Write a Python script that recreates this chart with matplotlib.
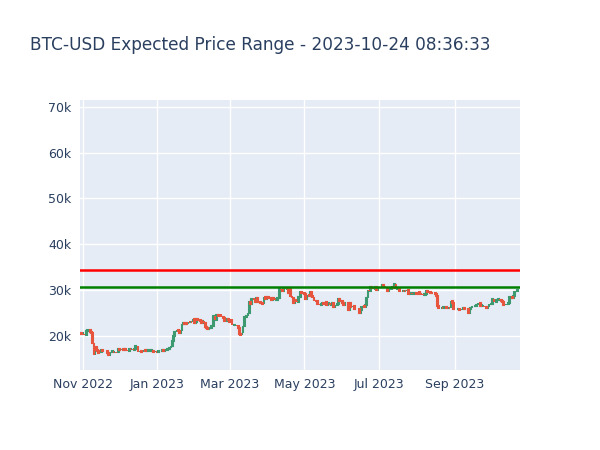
import matplotlib
matplotlib.use("Agg")
import matplotlib.pyplot as plt
import matplotlib.dates as mdates
import numpy as np
import pandas as pd

start = "2022-10-30"
# daily closes, thousands USD
closes = [
    20.6, 20.5,
    20.5, 20.2, 20.2, 21.1, 21.3, 21.3, 20.9, 20.6, 18.5, 15.9, 17.6, 17.0, 16.8, 16.3, 16.6,
    16.9, 16.7, 16.7, 16.7, 16.7, 16.3, 15.8, 16.2, 16.6, 16.6, 16.5, 16.5, 16.2, 16.4, 17.2,
    17.0, 16.9, 17.1, 16.9, 17.1, 17.0, 16.8, 16.8, 17.2, 17.1, 17.1, 16.9, 17.1, 17.8, 17.8,
    16.6, 16.7, 16.8, 16.6, 16.5, 16.9, 16.8, 16.8, 16.8, 16.8, 16.8, 16.8, 16.7, 16.6, 16.6, 16.5,
    16.6, 16.7, 16.7, 16.7, 16.9, 16.8, 16.9, 16.9, 17.1, 17.2, 17.4, 17.9, 18.8, 19.9, 20.9,
    20.9, 21.2, 21.1, 20.7, 21.1, 22.7, 22.8, 22.7, 22.9, 22.6, 23.1, 23.0, 23.1, 23.0, 23.7, 22.8,
    23.1, 23.7, 23.5, 23.4, 23.3, 22.9, 23.2, 22.9, 22.0, 21.8, 21.6, 21.8, 21.8, 22.2,
    22.2, 24.3, 23.5, 24.6, 24.5, 24.3, 24.8, 24.1, 24.2, 23.9, 23.2, 23.2, 23.6, 23.5,
    23.1, 23.6, 22.4, 22.4, 22.4, 22.4, 22.2, 21.7, 20.4, 20.2, 20.6, 22.2, 24.1, 24.2, 24.4,
    25.0, 27.4, 26.9, 28.0, 28.2, 27.8, 27.5, 28.3, 27.5, 27.5, 27.1, 27.1, 26.9, 28.4, 28.0, 28.5,
    28.5, 28.2, 28.2, 27.8, 28.2, 28.0, 27.9, 27.9, 28.3, 28.3, 30.2, 30.1, 29.9, 30.4, 30.5,
    30.3, 30.3, 29.4, 30.4, 28.8, 28.2, 27.3, 27.8, 27.6, 27.5, 28.4, 28.4, 29.5, 29.3, 29.4,
    29.2, 28.1, 28.7, 29.0, 28.8, 29.5, 28.8, 28.4, 27.7, 27.6, 27.6, 27.0, 26.8, 26.8, 26.9,
    27.2, 27.0, 27.4, 26.8, 26.9, 27.1, 26.7, 26.9, 27.2, 26.3, 26.5, 26.7, 26.9, 28.1, 27.7, 27.7,
    27.2, 26.8, 27.2, 27.1, 27.2, 25.7, 27.2, 26.3, 26.5, 26.5, 25.9, 25.9, 25.9, 25.9, 25.1,
    25.6, 26.3, 26.5, 26.3, 26.8, 28.3, 30.0, 29.9, 30.7, 30.5, 30.5, 30.3, 30.7, 30.1, 30.4,
    30.5, 30.6, 30.6, 31.2, 31.0, 30.5, 30.4, 29.9, 30.3, 30.3, 30.4, 30.7, 30.4, 31.4, 30.3,
    30.3, 30.3, 29.9, 29.8, 29.9, 29.8, 29.9, 29.8, 30.1, 29.2, 29.2, 29.3, 29.2, 29.3, 29.4, 29.3,
    29.2, 29.7, 29.2, 29.2, 29.1, 29.0, 29.0, 29.1, 29.8, 29.5, 29.5, 29.4, 29.4, 29.3, 29.4,
    29.2, 28.7, 26.6, 26.0, 26.1, 26.2, 26.0, 26.4, 26.4, 26.2, 26.0, 26.1, 26.0, 27.7, 27.3, 25.9,
    25.8, 25.9, 25.9, 25.8, 25.7, 25.7, 25.8, 26.2, 25.9, 25.9, 25.8, 25.1, 25.8, 26.1, 26.5,
    26.5, 26.5, 26.5, 26.8, 27.2, 27.1, 26.6, 26.6, 26.6, 26.3, 26.3, 26.2, 26.4, 27.0, 27.0,
    27.0, 28.0, 27.5, 27.4, 27.8, 27.9, 28.0, 27.9, 27.6, 27.4, 26.8, 26.7, 26.9, 26.9, 27.2,
    28.5, 28.4, 28.3, 28.7, 29.7, 29.9, 30.0, 30.0,
]
upper_level = 34.5
lower_level = 30.6
title = "BTC-USD Expected Price Range - 2023-10-24 08:36:33"

dates = pd.date_range(start, periods=len(closes), freq="D")
close = np.array(closes) * 1000
opens = np.concatenate([[close[0]], close[:-1]])
up = close >= opens

fig = plt.figure(figsize=(6, 4.5), dpi=100)
ax = fig.add_axes([0.133, 0.178, 0.734, 0.6])
ax.set_facecolor("#E5ECF6")
ax.grid(color="white", linewidth=1)
ax.set_axisbelow(True)
for s in ax.spines.values():
    s.set_visible(False)

x = mdates.date2num(dates)
bottom = np.minimum(opens, close)
height = np.maximum(np.abs(close - opens), 60)
ax.bar(x[up], height[up], bottom=bottom[up], width=0.6, color="#3D9970",
       edgecolor="#3D9970", linewidth=1.5, zorder=3)
ax.bar(x[~up], height[~up], bottom=bottom[~up], width=0.6, color="#E8553F",
       edgecolor="#E8553F", linewidth=1.5, zorder=3)

ax.axhline(upper_level * 1000, color="red", linewidth=1.8, zorder=4)
ax.axhline(lower_level * 1000, color="green", linewidth=1.8, zorder=4)

ax.set_ylim(12600, 71500)
ax.set_yticks([20000, 30000, 40000, 50000, 60000, 70000])
ax.set_yticklabels(["20k", "30k", "40k", "50k", "60k", "70k"])
ax.set_xlim(x[0] - 0.5, x[-1] + 1.5)
xt = pd.to_datetime(["2022-11-01", "2023-01-01", "2023-03-01", "2023-05-01", "2023-07-01", "2023-09-01"])
ax.set_xticks(mdates.date2num(xt))
ax.set_xticklabels(["Nov 2022", "Jan 2023", "Mar 2023", "May 2023", "Jul 2023", "Sep 2023"])
ax.tick_params(length=0, labelsize=9, colors="#2a3f5f", pad=6)

fig.text(0.05, 0.9, title, fontsize=12.2, color="#2a3f5f", va="center")
fig.savefig("out.png", dpi=100)
